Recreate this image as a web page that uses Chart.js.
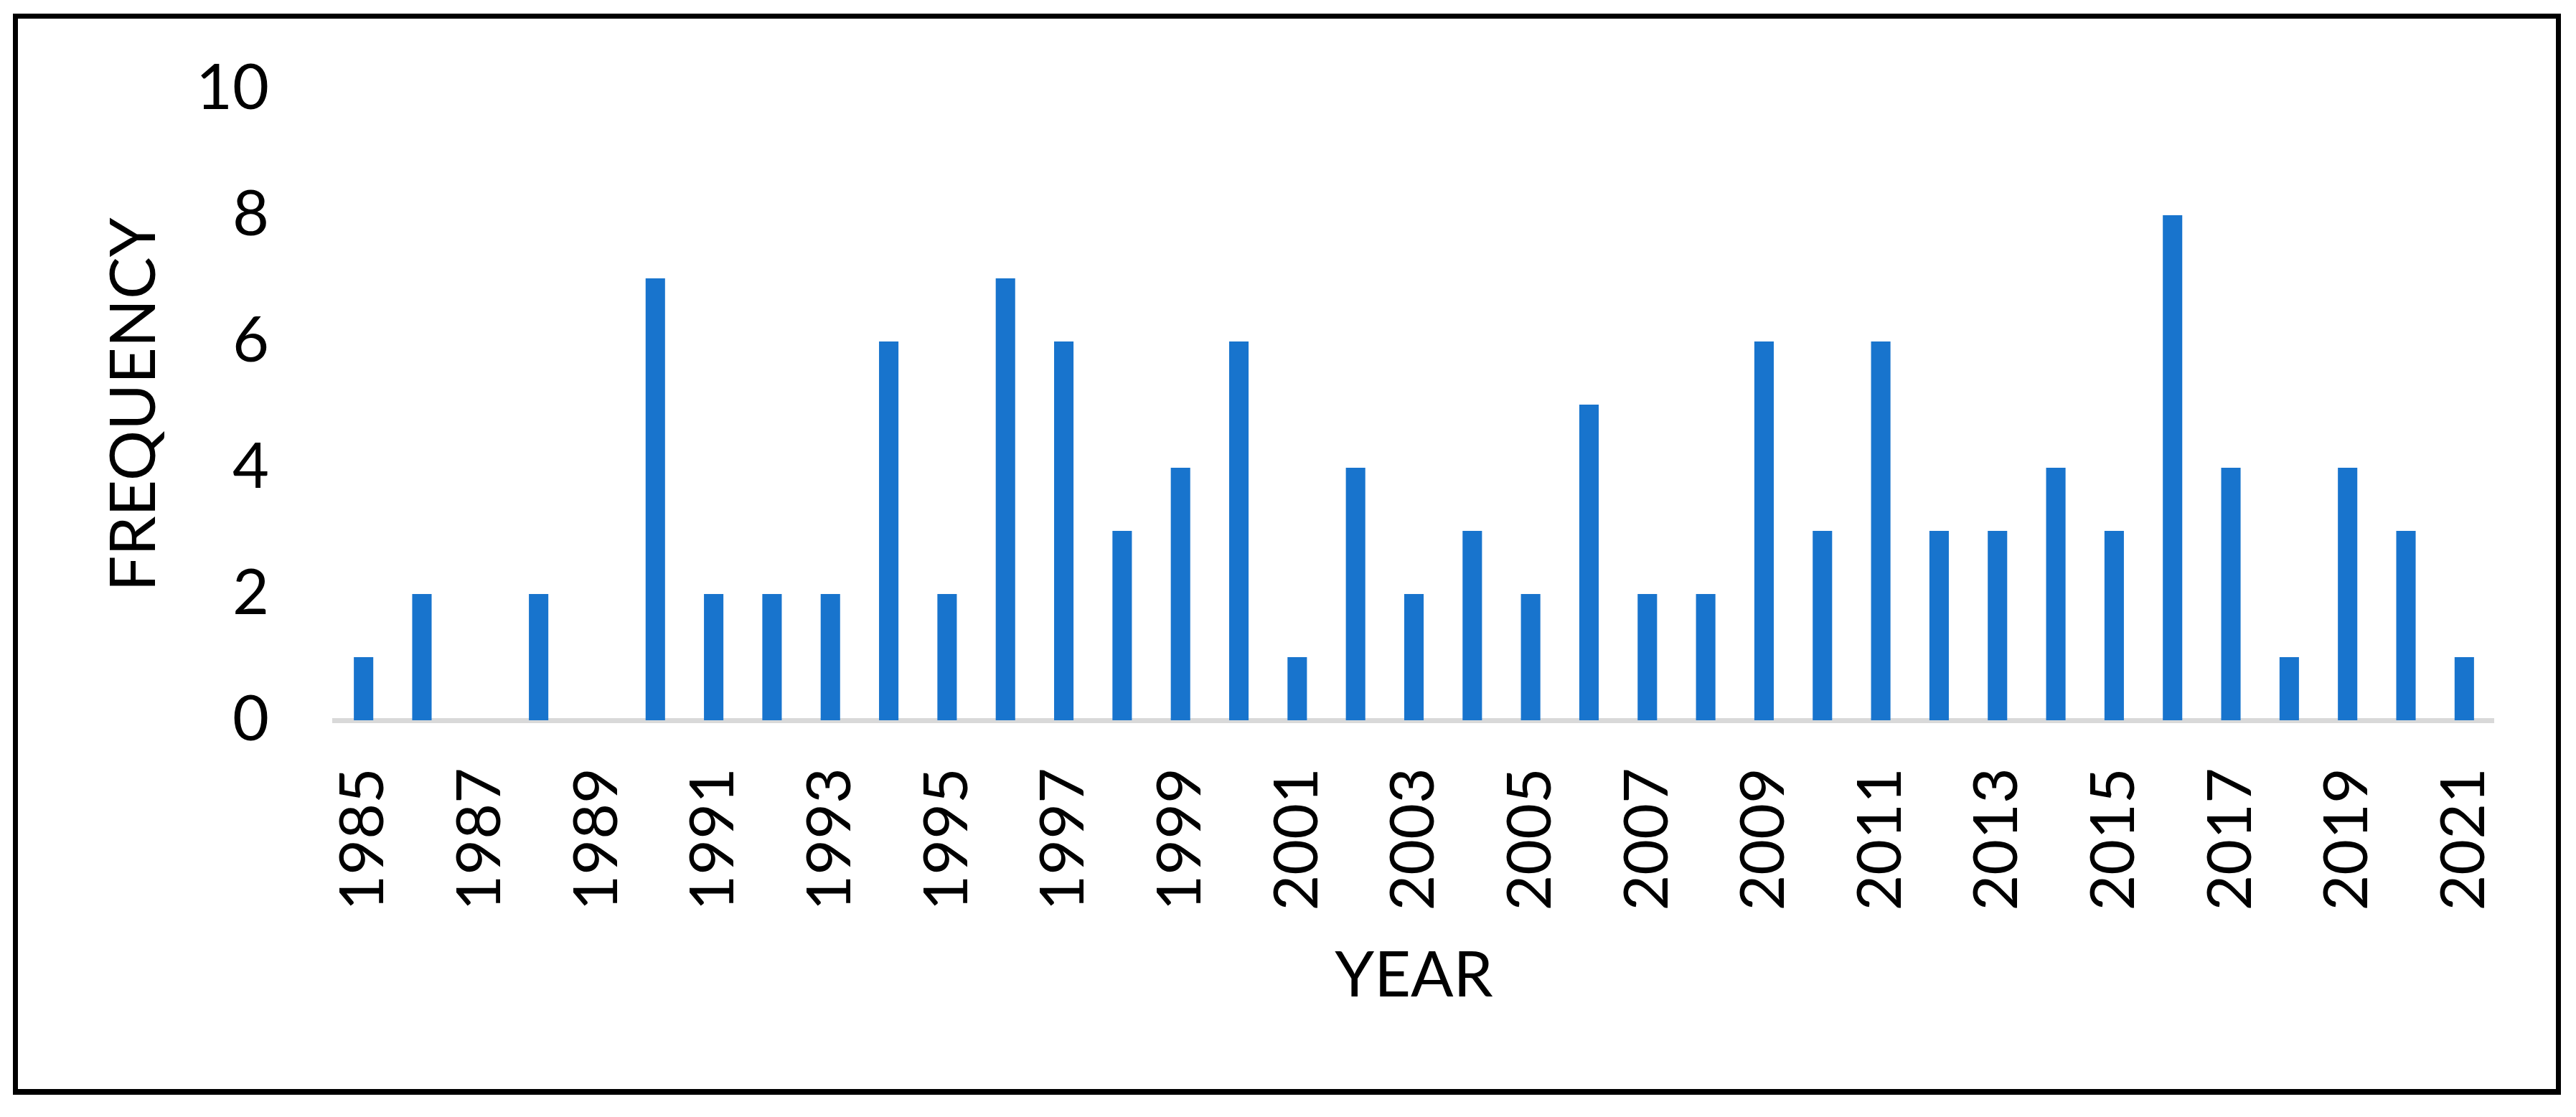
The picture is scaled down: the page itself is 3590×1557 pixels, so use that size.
<!DOCTYPE html>
<html>
<head>
<meta charset="utf-8">
<title>Frequency by year</title>
<script src="https://cdn.jsdelivr.net/npm/chart.js@4.4.1/dist/chart.umd.min.js"></script>
<style>
  html, body { margin: 0; padding: 0; background: #fff; }
  #frame {
    position: absolute; left: 18px; top: 19px;
    width: 3551px; height: 1507px;
    box-sizing: border-box; border: 7px solid #000; border-bottom-width: 8px;
  }
  #wrap { position: absolute; left: 0; top: 0; width: 3590px; height: 1557px; }
</style>
</head>
<body>
<div id="frame"></div>
<div id="wrap"><canvas id="grafico"></canvas></div>
<script>
// data
const years = ['1985','1986','1987','1988','1989','1990','1991','1992','1993','1994',
               '1995','1996','1997','1998','1999','2000','2001','2002','2003','2004',
               '2005','2006','2007','2008','2009','2010','2011','2012','2013','2014',
               '2015','2016','2017','2018','2019','2020','2021'];
const frequency = [1, 2, 0, 2, 0, 7, 2, 2, 2, 6,
                   2, 7, 6, 3, 4, 6, 1, 4, 2, 3,
                   2, 5, 2, 2, 6, 3, 6, 3, 3, 4,
                   3, 8, 4, 1, 4, 3, 1];
const yMin = 0;
const yMax = 10;
const yStep = 2;

Chart.defaults.font.family = 'Lato';
Chart.defaults.color = '#000';

const ctx = document.getElementById('grafico');

new Chart(ctx, {
    type: 'bar',
    data: {
        labels: years,
        datasets: [{
            label: 'FREQUENCY',
            data: frequency,
            backgroundColor: '#1874CD',
            borderWidth: 0,
            categoryPercentage: 1,
            barPercentage: 0.333
        }]
    },
    options: {
        responsive: true,
        maintainAspectRatio: false,
        animation: false,
        layout: { padding: { left: 0, right: 115, top: 124, bottom: 0 } },
        plugins: {
            legend: { display: false },
            tooltip: { enabled: false }
        },
        scales: {
            x: {
                z: 1,
                grid: { display: false, drawTicks: false },
                border: { display: true, color: '#D9D9D9', width: 7 },
                ticks: {
                    autoSkip: false,
                    minRotation: 90,
                    maxRotation: 90,
                    padding: 66,
                    font: { size: 86 },
                    callback: function (value, index) {
                        return index % 2 === 0 ? this.getLabelForValue(value) : '';
                    }
                },
                title: {
                    display: true,
                    text: 'YEAR',
                    font: { size: 88 },
                    padding: { top: 0, bottom: 144 }
                },
                afterFit: function (scale) {
                    scale.height = 553;
                    scale.paddingLeft = 0;
                    scale.paddingRight = 0;
                }
            },
            y: {
                min: yMin,
                max: yMax,
                grid: { display: false, drawTicks: false },
                border: { display: false },
                ticks: {
                    stepSize: yStep,
                    padding: 91,
                    font: { size: 88 }
                },
                title: {
                    display: true,
                    text: 'FREQUENCY',
                    font: { size: 88 },
                    padding: { top: 135, bottom: 0 }
                },
                afterFit: function (scale) {
                    scale.width = 466;
                    scale.paddingTop = 0;
                    scale.paddingBottom = 0;
                }
            }
        }
    }
});
</script>
</body>
</html>
